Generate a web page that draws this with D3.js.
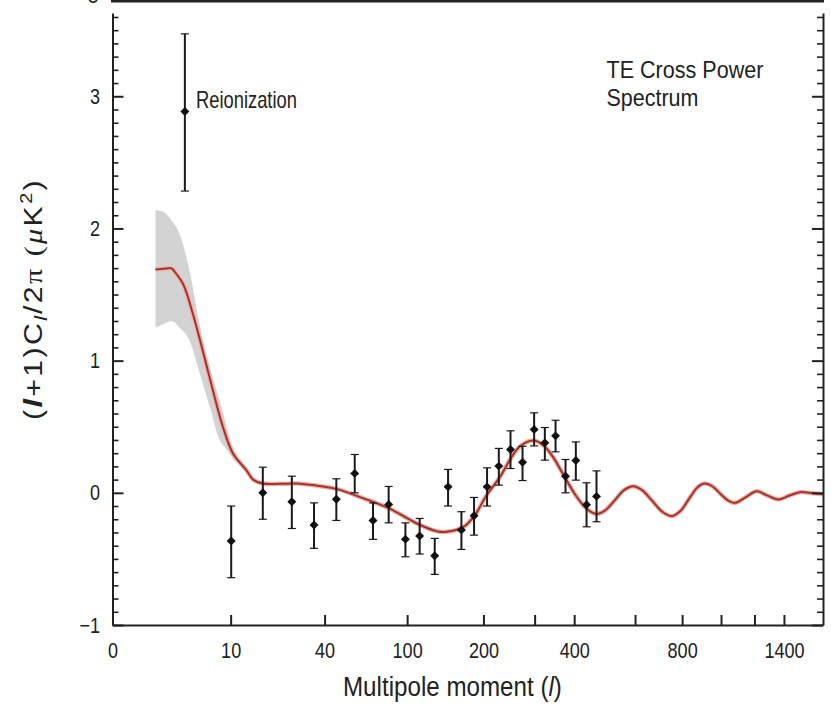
<!DOCTYPE html>
<html>
<head>
<meta charset="utf-8">
<script src="https://cdn.jsdelivr.net/npm/d3@7"></script>
<style>
body { margin: 0; background: #fff; }
text { font-family: "Liberation Sans", Arial, sans-serif; fill: #222; }
</style>
</head>
<body>
<div id="chart"></div>
<script>
// binned TE points (multipole, value, lower and upper end of error bar)
var dataEll = [10.1, 17, 26, 35, 46.2, 57.3, 70.2, 82.9, 98.3, 113, 130.3, 147.2, 165.7, 184.8, 206.1, 226.9, 249.1, 273.6, 298.9, 323.8, 350.2, 376.2, 404.6, 435.8, 466.4]
var dataTE = [-0.365, 0.0, -0.068, -0.244, -0.048, 0.147, -0.209, -0.088, -0.352, -0.327, -0.476, 0.045, -0.282, -0.174, 0.045, 0.202, 0.328, 0.232, 0.479, 0.378, 0.431, 0.126, 0.245, -0.09, -0.027]
var dataLow = [-0.642, -0.2, -0.27, -0.42, -0.209, 0.0, -0.352, -0.227, -0.484, -0.463, -0.617, -0.1, -0.428, -0.32, -0.1, 0.058, 0.184, 0.093, 0.355, 0.247, 0.31, 0.0, 0.096, -0.257, -0.219]
var dataHigh = [-0.1, 0.194, 0.126, -0.076, 0.106, 0.29, -0.076, 0.048, -0.227, -0.194, -0.345, 0.177, -0.143, -0.035, 0.189, 0.336, 0.469, 0.352, 0.605, 0.494, 0.549, 0.252, 0.385, 0.076, 0.166]

// low-l reionization point
var reionEll = [4.06]
var reionTE = [2.885]
var reionLow = [2.283]
var reionHigh = [3.472]

// best fit model
var modelEll = [2, 3, 3.9, 4.8, 5.9, 7.2, 8.7, 10.4, 13.1, 14.6, 17, 22, 27.7, 36, 46.2, 62.9, 83.8, 109.5, 132.4, 145.1, 168, 186, 205, 229, 248, 268, 297, 320, 344, 374, 407, 436, 466,
    493, 527, 559, 593, 626, 667, 709, 752, 794, 837, 877, 913, 956, 999, 1039, 1080, 1146, 1214, 1282, 1360, 1436, 1518, 1604, 1700]
var modelTE = [1.69, 1.70, 1.58, 1.36, 1.08, 0.78, 0.50, 0.30, 0.17, 0.10, 0.07, 0.068, 0.07, 0.055, 0.03, -0.04, -0.12, -0.23, -0.29, -0.295, -0.26, -0.17, -0.02, 0.12, 0.25, 0.35, 0.395, 0.36, 0.27, 0.12, -0.03, -0.12, -0.16,
    -0.135, -0.055, 0.02, 0.05, 0.022, -0.058, -0.141, -0.176, -0.134, -0.036, 0.044, 0.07, 0.046, -0.011, -0.057, -0.076, -0.032, 0.012, -0.019, -0.05, -0.022, 0.005, -0.002, -0.01]

// cosmic variance band
var bandEll = [2, 2.5, 3, 3.6, 4.5, 5.5, 6.8, 8.2, 9.3, 10.4, 12]
var bandHigh = [2.14, 2.12, 2.06, 1.96, 1.68, 1.29, 0.95, 0.70, 0.50, 0.34, 0.24]
var bandLow = [1.25, 1.28, 1.30, 1.25, 1.15, 0.92, 0.65, 0.40, 0.33, 0.26, 0.20]

// axes
var xMin = 0.527, xMax = 1702
var xTicks = [xMin, 10, 40, 100, 200, 400, 800, 1400]
var xTickLabels = ["0", "10", "40", "100", "200", "400", "800", "1400"]
var xMinor = [300, 600, 1000, 1200]
var yTicks = [-1, 0, 1, 2, 3]
var yMinor = d3.range(-10, 37).filter(function(i) { return i % 10 != 0 }).map(function(i) { return i / 10 })

var svg = d3.select("#chart").append("svg").attr("width", 831).attr("height", 706)
var x = d3.scalePow().exponent(0.25).domain([xMin, xMax]).range([112.5, 823])
var y = d3.scaleLinear().domain([-1, 3.63]).range([625, 13])

// squeeze a text to the narrow face used in the figure
function fit(t, tx, ty, width, rot) {
    var w = t.node().getComputedTextLength()
    t.attr("transform", "translate(" + tx + "," + ty + ")" + (rot ? " rotate(-90)" : "") + " scale(" + (width / w) + ",1)")
}
function narrow(sel, k) {
    sel.each(function() {
        var w = this.getComputedTextLength()
        d3.select(this).attr("textLength", w * k).attr("lengthAdjust", "spacingAndGlyphs")
    })
}

// edge of the panel above
svg.append("line").attr("x1", 111).attr("x2", 824).attr("y1", 1.2).attr("y2", 1.2).attr("stroke", "#222").attr("stroke-width", 2.5)
svg.append("text").attr("x", 93).attr("y", 3).attr("text-anchor", "middle").style("font-size", "22px").text("0")

// band
var band = bandEll.map(function(l, i) { return [l, bandLow[i], bandHigh[i]] })
svg.append("path").datum(band)
    .attr("d", d3.area().x(function(d) { return x(d[0]) }).y0(function(d) { return y(d[1]) }).y1(function(d) { return y(d[2]) }).curve(d3.curveMonotoneX))
    .attr("fill", "#d3d3d3")

// model line: straight first step, smooth after
var model = modelEll.map(function(l, i) { return [l, modelTE[i]] })
var lineGen = d3.line().x(function(d) { return x(d[0]) }).y(function(d) { return y(d[1]) }).curve(d3.curveCatmullRom.alpha(0.5))
var segs = [model.slice(0, 2), model.slice(1)]
segs.forEach(function(s) {
    svg.append("path").datum(s).attr("d", lineGen).attr("fill", "none").attr("stroke", "#eab2aa").attr("stroke-width", 4.5).attr("stroke-linejoin", "round")
})
segs.forEach(function(s) {
    svg.append("path").datum(s).attr("d", lineGen).attr("fill", "none").attr("stroke", "#a5322b").attr("stroke-width", 2).attr("stroke-linejoin", "round")
})

// points with error bars
function drawPoints(ells, vals, lows, highs) {
    var pts = ells.map(function(l, i) { return { l: l, v: vals[i], lo: lows[i], hi: highs[i] } })
    var g = svg.append("g").selectAll("g").data(pts).enter().append("g")
    g.append("line").attr("x1", function(d) { return x(d.l) }).attr("x2", function(d) { return x(d.l) })
        .attr("y1", function(d) { return y(d.lo) }).attr("y2", function(d) { return y(d.hi) })
        .attr("stroke", "#1a1a1a").attr("stroke-width", 2)
    g.append("line").attr("x1", function(d) { return x(d.l) - 4 }).attr("x2", function(d) { return x(d.l) + 4 })
        .attr("y1", function(d) { return y(d.lo) }).attr("y2", function(d) { return y(d.lo) })
        .attr("stroke", "#1a1a1a").attr("stroke-width", 1.2)
    g.append("line").attr("x1", function(d) { return x(d.l) - 4 }).attr("x2", function(d) { return x(d.l) + 4 })
        .attr("y1", function(d) { return y(d.hi) }).attr("y2", function(d) { return y(d.hi) })
        .attr("stroke", "#1a1a1a").attr("stroke-width", 1.2)
    g.append("path").attr("d", d3.symbol().type(d3.symbolSquare).size(40))
        .attr("transform", function(d) { return "translate(" + x(d.l) + "," + y(d.v) + ") rotate(45)" })
        .attr("fill", "#111")
}
drawPoints(dataEll, dataTE, dataLow, dataHigh)
drawPoints(reionEll, reionTE, reionLow, reionHigh)

// axes
function styleAxis(g, w) {
    g.selectAll(".domain").attr("stroke", "#222").attr("stroke-width", 2)
    g.selectAll(".tick line").attr("stroke", "#222").attr("stroke-width", w)
    g.attr("font-family", null).attr("font-size", null)
}
var gx = svg.append("g").attr("transform", "translate(0,625)")
    .call(d3.axisBottom(x).tickValues(xTicks).tickSize(-10).tickSizeOuter(0).tickPadding(17)
        .tickFormat(function(d) { return xTickLabels[xTicks.indexOf(d)] }))
styleAxis(gx, 2)
gx.selectAll("text").style("font-size", "22px")
narrow(gx.selectAll("text"), 0.82)
var gx2 = svg.append("g").attr("transform", "translate(0,625)")
    .call(d3.axisBottom(x).tickValues(xMinor).tickSize(-10).tickSizeOuter(0).tickFormat(""))
gx2.select(".domain").remove()
styleAxis(gx2, 2)

var gy = svg.append("g").attr("transform", "translate(112.5,0)")
    .call(d3.axisLeft(y).tickValues(yTicks).tickSize(-11).tickSizeOuter(0).tickPadding(12.5).tickFormat(d3.format("d")))
styleAxis(gy, 2)
gy.selectAll("text").style("font-size", "22px")
narrow(gy.selectAll("text"), 0.82)
var gy2 = svg.append("g").attr("transform", "translate(112.5,0)")
    .call(d3.axisLeft(y).tickValues(yMinor).tickSize(-6).tickSizeOuter(0).tickFormat(""))
gy2.select(".domain").remove()
styleAxis(gy2, 1.6)

var gr = svg.append("g").attr("transform", "translate(823,0)")
    .call(d3.axisRight(y).tickValues(yTicks).tickSize(-11).tickSizeOuter(0).tickFormat(""))
styleAxis(gr, 2)
var gr2 = svg.append("g").attr("transform", "translate(823,0)")
    .call(d3.axisRight(y).tickValues(yMinor).tickSize(-6).tickSizeOuter(0).tickFormat(""))
gr2.select(".domain").remove()
styleAxis(gr2, 1.6)

// labels
var t1 = svg.append("text").style("font-size", "23px").text("Reionization")
fit(t1, 196, 108, 101)
var t2 = svg.append("text").style("font-size", "24px").text("TE Cross Power")
fit(t2, 606.5, 78, 157)
var t3 = svg.append("text").style("font-size", "24px").text("Spectrum")
fit(t3, 606.5, 105.5, 92)

var xl = svg.append("text").style("font-size", "28px")
xl.append("tspan").text("Multipole moment (")
xl.append("tspan").style("font-style", "italic").text("l")
xl.append("tspan").text(")")
fit(xl, 343, 696, 219)

var yl = svg.append("text").style("font-size", "26px").attr("text-anchor", "middle").style("letter-spacing", "2px")
yl.append("tspan").text("(")
yl.append("tspan").style("font-style", "italic").style("font-weight", "bold").text("l")
yl.append("tspan").text("+1)C")
yl.append("tspan").style("font-style", "italic").style("font-size", "18px").attr("dy", 5).text("l")
yl.append("tspan").attr("dy", -5).text("/2")
yl.append("tspan").style("font-family", "Liberation Serif, serif").text("\u03c0 (")
yl.append("tspan").style("font-style", "italic").style("font-family", "Liberation Serif, serif").text("\u03bc")
yl.append("tspan").text("K")
yl.append("tspan").style("font-size", "17px").attr("dy", -10).text("2")
yl.append("tspan").attr("dy", 10).text(")")
fit(yl, 41.5, 299, 242, true)
</script>
</body>
</html>
